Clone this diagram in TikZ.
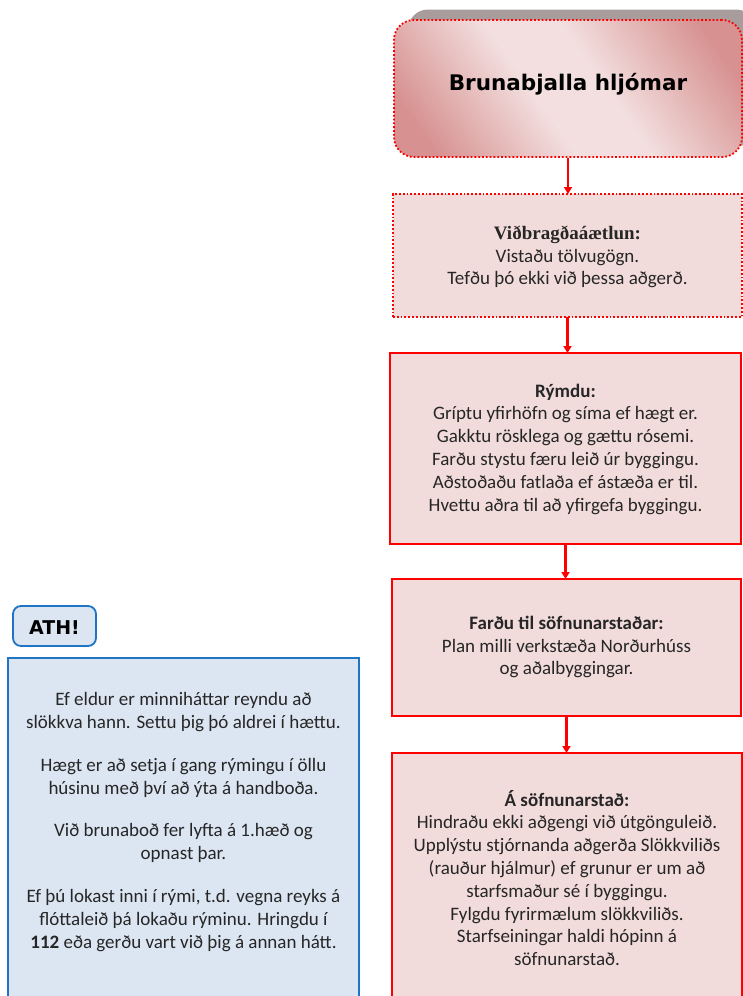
\documentclass[tikz,border=0pt]{standalone}
\usepackage{fontspec}
\setmainfont{Carlito}
\newfontfamily\serifbold{Liberation Serif}
\newfontfamily\heavyfont{DejaVu Sans}
\usetikzlibrary{arrows.meta}
\definecolor{boxpink}{HTML}{F2DCDB}
\definecolor{lightpink}{HTML}{F3DFDF}
\definecolor{darkpink}{HTML}{D69190}
\definecolor{ared}{HTML}{FF0000}
\definecolor{ablue}{HTML}{1F74C4}
\definecolor{lblue}{HTML}{DCE6F2}
\definecolor{shadowgray}{HTML}{A89C9C}
\pgfdeclareverticalshading{titleshade}{100bp}{color(0bp)=(darkpink); color(22bp)=(darkpink); color(44bp)=(lightpink); color(56bp)=(lightpink); color(78bp)=(darkpink); color(100bp)=(darkpink)}
\begin{document}
\begin{tikzpicture}[x=1pt,y=-1pt,
  txt/.style={font=\fontsize{19}{22.8}\selectfont, align=center, text=black!85, inner sep=0pt},
  redbox/.style={draw=ared, line width=1.8pt, fill=boxpink, inner sep=0pt, outer sep=0pt},
  dotbox/.style={redbox, dotted},
  bluebox/.style={draw=ablue, line width=1.8pt, fill=lblue, inner sep=0pt, outer sep=0pt},
  flow/.style={draw=ared, line width=2.2pt, -{Triangle[length=7pt,width=8pt]}}
]
\useasboundingbox (0,0) rectangle (743,996);
\clip (0,0) rectangle (743,996);

% shadow of top box
\node[fill=shadowgray, rounded corners=20pt, minimum width=348pt, minimum height=137pt, inner sep=0pt] (shadow) at (582,78) {};
% top box
\node[draw=ared, line width=1.8pt, dotted, rounded corners=20pt, minimum width=348pt, minimum height=137pt, inner sep=0pt,
      shading=titleshade, shading angle=-55] (b1) at (568,88.5) {};
\node[font=\heavyfont\bfseries\fontsize{21.5}{24}\selectfont, inner sep=0pt] (t1) at (568,84) {Brunabjalla hljómar};

% box 2
\node[dotbox, minimum width=349pt, minimum height=123pt] (b2) at (567.5,255.5) {};
\node[txt] (t2) at (567.5,257) {{\serifbold\bfseries Viðbragðaáætlun:}\\Vistaðu tölvugögn.\\Tefðu þó ekki við þessa aðgerð.};

% box 3
\node[redbox, minimum width=351pt, minimum height=191pt] (b3) at (565.5,448.5) {};
\node[txt] (t3) at (565.5,449) {\textbf{Rýmdu:}\\Gríptu yfirhöfn og síma ef hægt er.\\Gakktu rösklega og gættu rósemi.\\Farðu stystu færu leið úr byggingu.\\Aðstoðaðu fatlaða ef ástæða er til.\\Hvettu aðra til að yfirgefa byggingu.};

% box 4
\node[redbox, minimum width=349pt, minimum height=137pt] (b4) at (566.5,647.5) {};
\node[txt] (t4) at (566.5,647) {\textbf{Farðu til söfnunarstaðar:}\\Plan milli verkstæða Norðurhúss\\og aðalbyggingar.};

% box 5
\node[redbox, minimum width=350pt, minimum height=257pt] (b5) at (567,881.5) {};
\node[txt] (t5) at (567,878) {\textbf{Á söfnunarstað:}\\Hindraðu ekki aðgengi við útgönguleið.\\Upplýstu stjórnanda aðgerða Slökkviliðs\\(rauður hjálmur) ef grunur er um að\\starfsmaður sé í byggingu.\\Fylgdu fyrirmælum slökkviliðs.\\Starfseiningar haldi hópinn á\\söfnunarstað.};

% arrows
\draw[flow] (b1.south) -- (b1.south |- b2.north);
\draw[flow] (b2.south) -- (b2.south |- b3.north);
\draw[flow] (b3.south) -- (b3.south |- b4.north);
\draw[flow] (b4.south) -- (b4.south |- b5.north);

% ATH label
\node[bluebox, rounded corners=8pt, minimum width=83pt, minimum height=40pt] (ath) at (54.5,626) {};
\node[font=\heavyfont\bfseries\fontsize{19}{21}\selectfont, inner sep=0pt] (athtxt) at (54.5,628) {ATH!};

% blue info box
\node[bluebox, minimum width=351pt, minimum height=352pt] (info) at (183.5,834) {};
\node[txt] (infotxt) at (183.5,822) {Ef eldur er minniháttar reyndu að\\slökkva hann. Settu þig þó aldrei í hættu.\\[20pt]Hægt er að setja í gang rýmingu í öllu\\húsinu með því að ýta á handboða.\\[20pt]Við brunaboð fer lyfta á 1.hæð og\\opnast þar.\\[20pt]Ef þú lokast inni í rými, t.d. vegna reyks á\\flóttaleið þá lokaðu rýminu. Hringdu í\\\textbf{112} eða gerðu vart við þig á annan hátt.};
\end{tikzpicture}
\end{document}
